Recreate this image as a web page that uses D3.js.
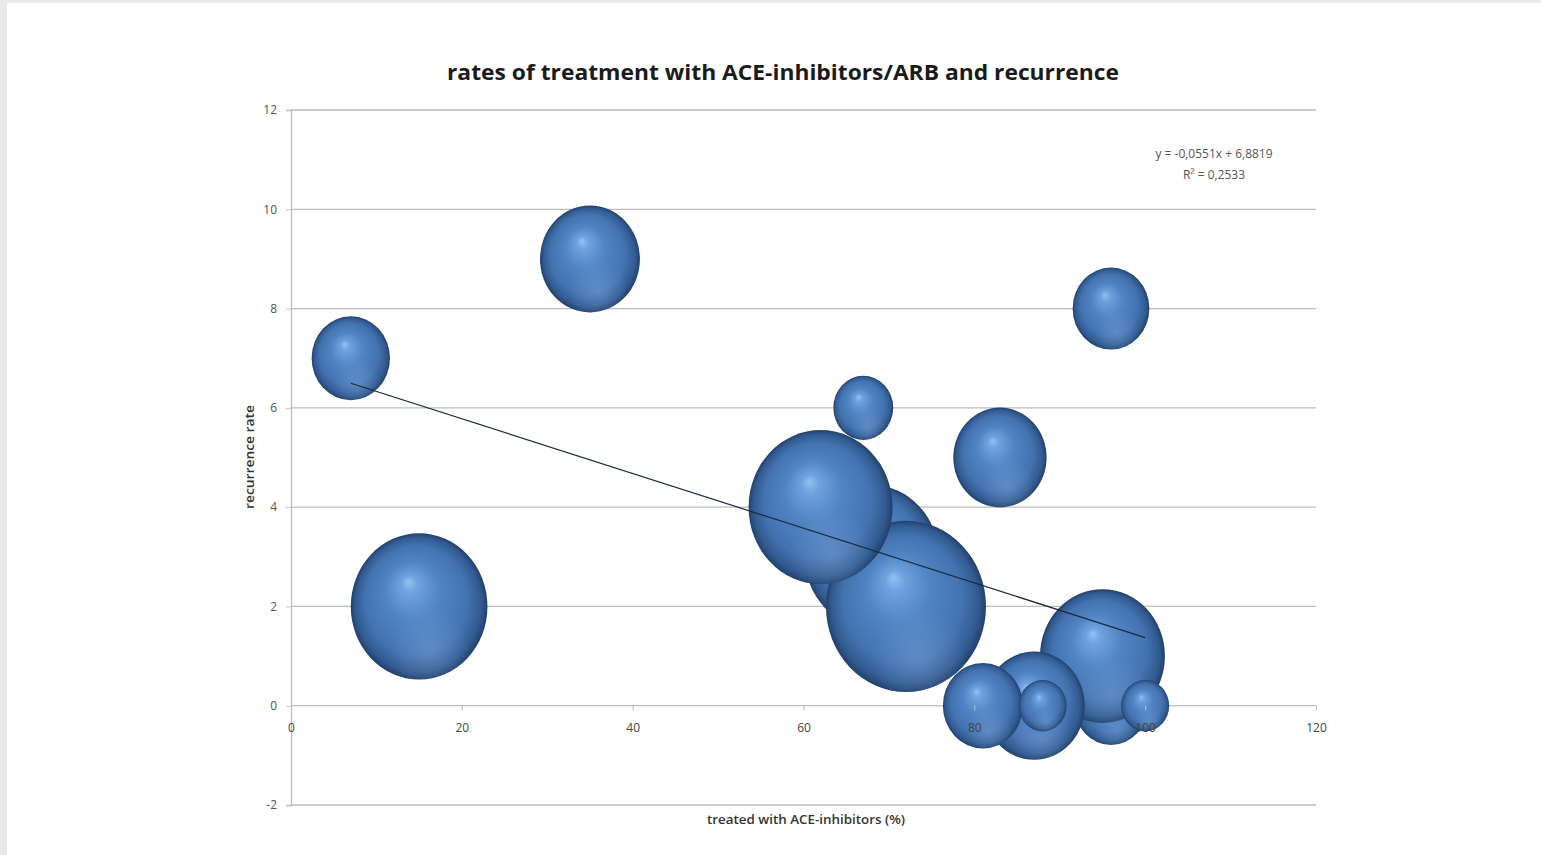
<!DOCTYPE html>
<html><head><meta charset="utf-8">
<script src="https://cdn.jsdelivr.net/npm/d3@7"></script>
<style>
html,body{margin:0;padding:0;background:#e9e9e9;}
svg{display:block;}
</style></head>
<body>
<svg id="chart" width="1541" height="855"></svg>
<script>
// ---- data ----
const treatedPct   = [68, 72, 62, 15, 35, 83, 7, 96, 96, 95, 87, 81, 67, 88, 100];
const recurrence   = [3, 2, 4, 2, 9, 5, 7, 8, 0, 1, 0, 0, 6, 0, 0];
const bubbleSize   = [70, 100, 81, 73, 39, 34, 24, 23, 21, 61, 40, 25, 14, 9, 9];
const xTicks = [0, 20, 40, 60, 80, 100, 120];
const yTicks = [-2, 0, 2, 4, 6, 8, 10, 12];
const trendSlope = -0.0551;
const trendIntercept = 6.8819;
const titleText = "rates of treatment with ACE-inhibitors/ARB and recurrence";
const xTitle = "treated with ACE-inhibitors (%)";
const yTitle = "recurrence rate";
const eqText = ["y = -0,0551x + 6,8819", "R² = 0,2533"];

const svg = d3.select("#chart");
svg.append("rect").attr("x",7).attr("y",3).attr("width",1541-7).attr("height",855-3).attr("fill","#fff");

const x = d3.scaleLinear().domain([0,120]).range([291,1316]);
const y = d3.scaleLinear().domain([-2,12]).range([805,110]);
const r = d3.scaleSqrt().domain([0,100]).range([0,80]);
const font = "'Open Sans', sans-serif";
const fmt = d => String(d);

const defs = svg.append("defs");
const g1 = defs.append("radialGradient").attr("id","sph").attr("cx","50%").attr("cy","50%").attr("r","50%").attr("fx","42%").attr("fy","33%");
[[0,"#93c3f2"],[0.12,"#6fa2de"],[0.4,"#5084c4"],[0.75,"#4372b0"],[0.92,"#315a90"],[1,"#22406b"]].forEach(s=>g1.append("stop").attr("offset",s[0]).attr("stop-color",s[1]));
const g3 = defs.append("radialGradient").attr("id","refl").attr("cx","58%").attr("cy","80%").attr("r","30%");
[[0,"rgba(140,180,225,0.35)"],[1,"rgba(140,180,225,0)"]].forEach(s=>g3.append("stop").attr("offset",s[0]).attr("stop-color",s[1]));

// gridlines
svg.append("g").selectAll("line").data(yTicks).join("line")
  .attr("x1",x(0)).attr("x2",x(120)).attr("y1",d=>y(d)).attr("y2",d=>y(d))
  .attr("stroke","#bdbdbd").attr("stroke-width",1.3);

// y axis
const ya = svg.append("g").attr("transform",`translate(${x(0)},0)`)
  .call(d3.axisLeft(y).tickValues(yTicks).tickSize(5).tickPadding(9).tickFormat(fmt));
ya.select(".domain").attr("stroke","#bdbdbd").attr("stroke-width",1.3);
ya.selectAll(".tick line").attr("stroke","#bdbdbd");
ya.selectAll("text").attr("font-family",font).attr("font-size",12).attr("fill","#555");

// bubbles
const data = treatedPct.map((v,i)=>({x:v,y:recurrence[i],s:bubbleSize[i]}));
const b = svg.append("g").selectAll("g").data(data).join("g");
b.append("ellipse").attr("cx",d=>x(d.x)).attr("cy",d=>y(d.y)).attr("rx",d=>r(d.s)).attr("ry",d=>r(d.s)*1.07).attr("fill","url(#sph)");
b.append("ellipse").attr("cx",d=>x(d.x)).attr("cy",d=>y(d.y)).attr("rx",d=>r(d.s)).attr("ry",d=>r(d.s)*1.07).attr("fill","url(#refl)");

// x axis (at y=0)
const xa = svg.append("g").attr("transform",`translate(0,${y(0)})`)
  .call(d3.axisBottom(x).tickValues(xTicks).tickSize(5).tickPadding(13).tickFormat(fmt));
xa.select(".domain").remove();
xa.selectAll(".tick line").attr("stroke","#bdbdbd");
xa.selectAll("text").attr("font-family",font).attr("font-size",12).attr("fill","#444");

// trendline
const tx = d3.extent(treatedPct);
svg.append("line").attr("x1",x(tx[0])).attr("y1",y(trendSlope*tx[0]+trendIntercept))
  .attr("x2",x(tx[1])).attr("y2",y(trendSlope*tx[1]+trendIntercept))
  .attr("stroke","#1c2a3a").attr("stroke-width",1.2);

// texts
svg.append("text").attr("x",783).attr("y",80).attr("text-anchor","middle")
  .attr("font-family",font).attr("font-weight",700).attr("font-size",21).attr("fill","#1a1a1a")
  .attr("textLength",672).attr("lengthAdjust","spacingAndGlyphs").text(titleText);
svg.append("text").attr("x",806).attr("y",824).attr("text-anchor","middle")
  .attr("font-family",font).attr("font-weight",600).attr("font-size",12.5).attr("fill","#333")
  .attr("textLength",198).attr("lengthAdjust","spacingAndGlyphs").text(xTitle);
svg.append("text").attr("transform","translate(254,457) rotate(-90)").attr("text-anchor","middle")
  .attr("font-family",font).attr("font-weight",600).attr("font-size",12).attr("fill","#333")
  .attr("textLength",104).attr("lengthAdjust","spacingAndGlyphs").text(yTitle);
svg.append("g").selectAll("text").data(eqText).join("text")
  .attr("x",1214).attr("y",(d,i)=>158+i*21).attr("text-anchor","middle")
  .attr("font-family",font).attr("font-size",12).attr("fill","#555")
  .text(d=>d);
</script>
</body></html>
